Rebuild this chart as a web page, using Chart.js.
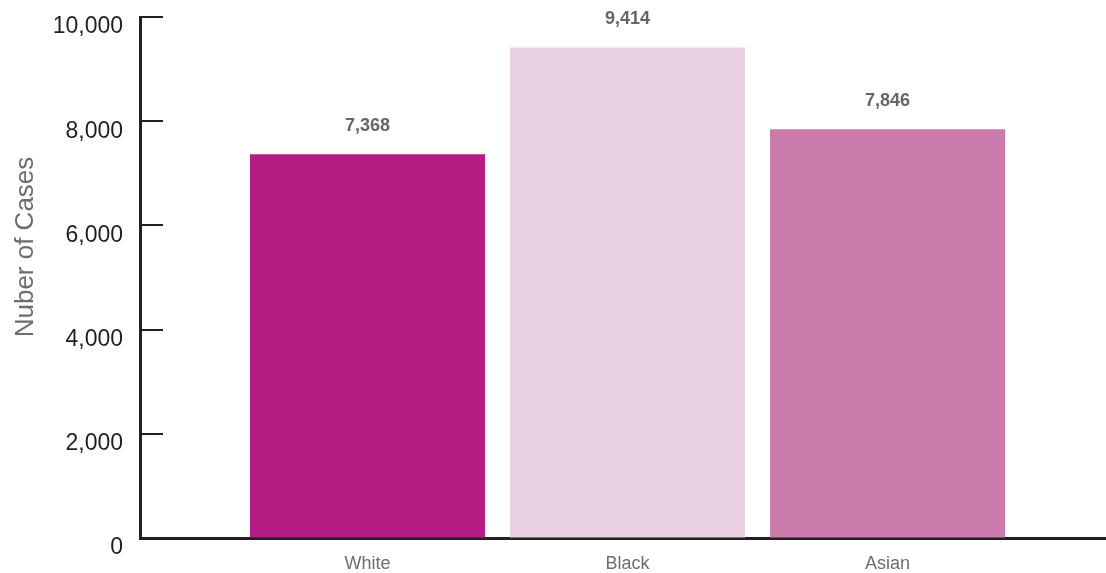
<!DOCTYPE html>
<html>
<head>
<meta charset="utf-8">
<script src="https://cdn.jsdelivr.net/npm/chart.js@4/dist/chart.umd.min.js"></script>
<style>
  html, body { margin: 0; padding: 0; background: #ffffff; }
  #wrap { width: 1106px; height: 573px; }
</style>
</head>
<body>
<div id="wrap"><canvas id="c" width="1106" height="573"></canvas></div>
<script>
// ---- data ----
const categories = ['White', 'Black', 'Asian'];
const cases = [7368, 9414, 7846];
const barColors = ['#b31d84', '#e9cfe2', '#ca7bab'];
const yTicks = [0, 2000, 4000, 6000, 8000, 10000];
const yTitle = 'Nuber of Cases';

const FONT = '"Liberation Sans", Arial, Helvetica, sans-serif';
const AXIS = '#231f20';
const fmt = v => Number(v).toLocaleString('en-US');

const points = categories.map((c, i) => ({ x: i, y: cases[i] }));

const extras = {
  id: 'extras',
  afterDatasetsDraw(chart) {
    const ctx = chart.ctx;
    const ys = chart.scales.y;
    // inward tick marks on the y axis
    ctx.save();
    ctx.strokeStyle = AXIS;
    ctx.lineWidth = 2;
    yTicks.forEach(v => {
      const py = Math.round(ys.getPixelForValue(v));
      ctx.beginPath();
      ctx.moveTo(ys.right, py);
      ctx.lineTo(ys.right + 23, py);
      ctx.stroke();
    });
    ctx.restore();
    // value labels above the bars
    const meta = chart.getDatasetMeta(0);
    ctx.save();
    ctx.font = 'bold 18px ' + FONT;
    ctx.fillStyle = '#666666';
    ctx.textAlign = 'center';
    ctx.textBaseline = 'middle';
    meta.data.forEach((bar, i) => {
      ctx.fillText(fmt(cases[i]), bar.x, bar.y - 28);
    });
    ctx.restore();
    // y axis title
    ctx.save();
    ctx.font = '26px ' + FONT;
    ctx.fillStyle = '#6d6d6e';
    ctx.textAlign = 'center';
    ctx.textBaseline = 'alphabetic';
    ctx.translate(33, 247);
    ctx.rotate(-Math.PI / 2);
    ctx.fillText(yTitle, 0, 0);
    ctx.restore();
  }
};

new Chart(document.getElementById('c'), {
  type: 'bar',
  data: {
    datasets: [{
      data: points,
      backgroundColor: barColors,
      borderWidth: 0,
      barPercentage: 0.904,
      categoryPercentage: 1.0
    }]
  },
  options: {
    responsive: false,
    animation: false,
    devicePixelRatio: 1,
    layout: { padding: { top: 17, right: 0, bottom: 0, left: 0 } },
    plugins: { legend: { display: false }, tooltip: { enabled: false } },
    scales: {
      x: {
        type: 'linear',
        offset: false,
        bounds: 'data',
        min: -0.875,
        max: 2.84,
        afterBuildTicks: s => { s.ticks = categories.map((c, i) => ({ value: i })); },
        afterFit: s => { s.height = 35; },
        grid: { display: false, drawTicks: false, offset: false },
        border: { display: true, color: AXIS, width: 3 },
        ticks: {
          callback: v => categories[v],
          color: '#6d6d6e',
          font: { family: FONT, size: 18 },
          padding: 15,
          maxRotation: 0,
          autoSkip: false
        }
      },
      y: {
        min: 0,
        max: 10000,
        afterBuildTicks: s => { s.ticks = yTicks.map(v => ({ value: v })); },
        afterFit: s => { s.width = 140; },
        grid: { display: true, drawOnChartArea: false, drawTicks: true, tickLength: 17, tickColor: 'rgba(0,0,0,0)' },
        border: { display: true, color: AXIS, width: 3 },
        ticks: {
          callback: v => fmt(v),
          color: '#231f20',
          font: { family: FONT, size: 23 },
          padding: 0,
          labelOffset: 10
        }
      }
    }
  },
  plugins: [extras]
});
</script>
</body>
</html>
